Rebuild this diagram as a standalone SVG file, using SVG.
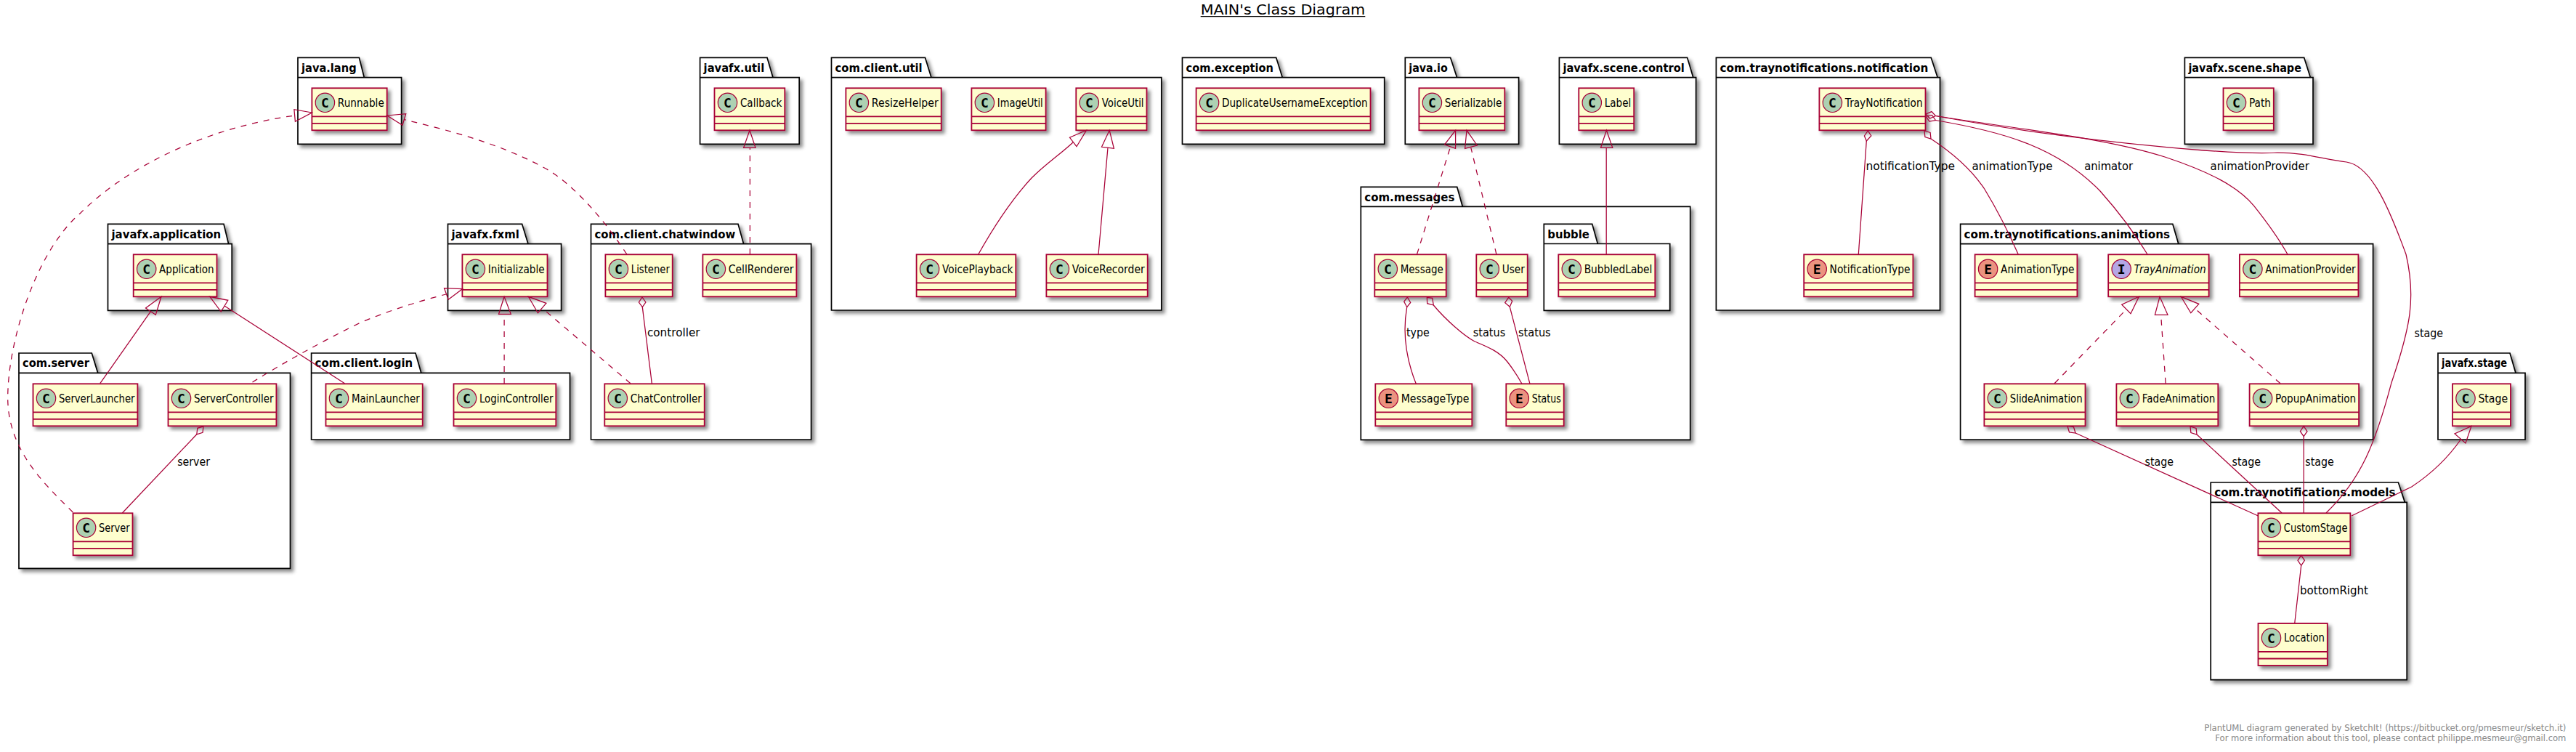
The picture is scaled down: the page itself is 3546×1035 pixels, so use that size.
<svg xmlns="http://www.w3.org/2000/svg" width="3546" height="1035" viewBox="0 0 3546 1035">
<style>
text{font-family:"DejaVu Sans","Liberation Sans",sans-serif;fill:#000}
.p path{fill:#fff;stroke:#000;stroke-width:1.7;filter:url(#s)}
.p text{font-weight:bold;font-size:16px}
.c rect{fill:#FEFECE;stroke:#A80036;stroke-width:1.8;filter:url(#s)}
.c path{fill:none;stroke:#A80036;stroke-width:1.8}
.c circle{stroke:#A80036;stroke-width:1.2;fill:#ADD1B2}
.e circle{fill:#EB937F}
.i circle{fill:#B4A7E5}
.c text{font-size:15px}
.i text.n{font-style:italic}
.c text.g{font-family:"DejaVu Sans Mono","Liberation Mono",monospace;font-weight:bold;font-size:18px;text-anchor:middle}
#links path,#links polygon{fill:none;stroke:#A80036;stroke-width:1.25}
#links .d{stroke-dasharray:8 8}
#links text{font-size:15px}
.f{font-size:12.5px;fill:#888}
</style>
<defs><filter id="s" x="-10%" y="-10%" width="125%" height="125%"><feDropShadow dx="4" dy="4" stdDeviation="2.4" flood-color="#000" flood-opacity="0.45"/></filter></defs>
<g id="title"><text x="1652.7" y="20" font-size="19" textLength="226.6" lengthAdjust="spacingAndGlyphs">MAIN's Class Diagram</text><path d="M1652.7 22.6H1879.3" stroke="#000" stroke-width="1.2"/></g>

<g id="pkg-java-lang" class="p"><path d="M410 106.7V79.3H494.4L501.3 106.7H552.6V198.3H410ZM410 106.7H501.3"/><text x="415" y="98.7" textLength="75.6" lengthAdjust="spacingAndGlyphs">java.lang</text></g>
<g id="pkg-javafx-util" class="p"><path d="M963.6 106.7V79.3H1056L1064 106.7H1100.2V198.3H963.6ZM963.6 106.7H1064"/><text x="968.6" y="98.7" textLength="83.6" lengthAdjust="spacingAndGlyphs">javafx.util</text></g>
<g id="pkg-com-client-util" class="p"><path d="M1144.5 106.7V79.3H1273.5L1282 106.7H1598.8V427H1144.5ZM1144.5 106.7H1282"/><text x="1149.5" y="98.7" textLength="120.2" lengthAdjust="spacingAndGlyphs">com.client.util</text></g>
<g id="pkg-com-exception" class="p"><path d="M1627.5 106.7V79.3H1756.7L1765.3 106.7H1905.7V198.3H1627.5ZM1627.5 106.7H1765.3"/><text x="1632.5" y="98.7" textLength="120.4" lengthAdjust="spacingAndGlyphs">com.exception</text></g>
<g id="pkg-java-io" class="p"><path d="M1934.3 106.7V79.3H1996.6L2005.6 106.7H2090.6V198.3H1934.3ZM1934.3 106.7H2005.6"/><text x="1939.3" y="98.7" textLength="53.5" lengthAdjust="spacingAndGlyphs">java.io</text></g>
<g id="pkg-javafx-scene-control" class="p"><path d="M2146.4 106.7V79.3H2322.6L2330.8 106.7H2334.6V198.3H2146.4ZM2146.4 106.7H2330.8"/><text x="2151.4" y="98.7" textLength="167.4" lengthAdjust="spacingAndGlyphs">javafx.scene.control</text></g>
<g id="pkg-notification" class="p"><path d="M2362.4 106.7V79.3H2658.2L2667.2 106.7H2670.5V427H2362.4ZM2362.4 106.7H2667.2"/><text x="2367.4" y="98.7" textLength="287" lengthAdjust="spacingAndGlyphs">com.traynotifications.notification</text></g>
<g id="pkg-javafx-scene-shape" class="p"><path d="M3007.4 106.7V79.3H3171.7L3180.4 106.7H3184V198.3H3007.4ZM3007.4 106.7H3180.4"/><text x="3012.4" y="98.7" textLength="155.5" lengthAdjust="spacingAndGlyphs">javafx.scene.shape</text></g>
<g id="pkg-javafx-application" class="p"><path d="M148.5 335.7V308.3H308L314.6 335.7H319.2V427.3H148.5ZM148.5 335.7H314.6"/><text x="153.5" y="327.7" textLength="150.7" lengthAdjust="spacingAndGlyphs">javafx.application</text></g>
<g id="pkg-javafx-fxml" class="p"><path d="M616.5 335.7V308.3H718.6L727 335.7H772.6V427.3H616.5ZM616.5 335.7H727"/><text x="621.5" y="327.7" textLength="93.3" lengthAdjust="spacingAndGlyphs">javafx.fxml</text></g>
<g id="pkg-chatwindow" class="p"><path d="M813.5 335.7V308.3H1016L1023.6 335.7H1116.6V605H813.5ZM813.5 335.7H1023.6"/><text x="818.5" y="327.7" textLength="193.7" lengthAdjust="spacingAndGlyphs">com.client.chatwindow</text></g>
<g id="pkg-animations" class="p"><path d="M2698.6 335.7V308.3H2990.8L2998.8 335.7H3266.6V605H2698.6ZM2698.6 335.7H2998.8"/><text x="2703.6" y="327.7" textLength="283.4" lengthAdjust="spacingAndGlyphs">com.traynotifications.animations</text></g>
<g id="pkg-com-messages" class="p"><path d="M1873.3 284.3V257.3H2005.7L2013.3 284.3H2326.7V605.3H1873.3ZM1873.3 284.3H2013.3"/><text x="1878.3" y="276.7" textLength="124" lengthAdjust="spacingAndGlyphs">com.messages</text></g>
<g id="pkg-bubble" class="p"><path d="M2125.3 335.5V308.3H2191.7L2199.3 335.5H2298.7V427.3H2125.3ZM2125.3 335.5H2199.3"/><text x="2130.3" y="327.7" textLength="57.6" lengthAdjust="spacingAndGlyphs">bubble</text></g>
<g id="pkg-com-server" class="p"><path d="M26 513.3V486H126.3L134.7 513.3H399.5V782.3H26ZM26 513.3H134.7"/><text x="31" y="505.4" textLength="92" lengthAdjust="spacingAndGlyphs">com.server</text></g>
<g id="pkg-com-client-login" class="p"><path d="M428.6 513.3V486H572L579.8 513.3H784.5V605H428.6ZM428.6 513.3H579.8"/><text x="433.6" y="505.4" textLength="134.6" lengthAdjust="spacingAndGlyphs">com.client.login</text></g>
<g id="pkg-javafx-stage" class="p"><path d="M3356 513.3V486H3455L3463 513.3H3476V605H3356ZM3356 513.3H3463"/><text x="3361" y="505.4" textLength="90" lengthAdjust="spacingAndGlyphs">javafx.stage</text></g>
<g id="pkg-models" class="p"><path d="M3043.2 691.3V664H3301.4L3310.4 691.3H3313.2V935.7H3043.2ZM3043.2 691.3H3310.4"/><text x="3048.2" y="683.4" textLength="249.4" lengthAdjust="spacingAndGlyphs">com.traynotifications.models</text></g>

<g id="Runnable" class="c"><rect x="429.4" y="121.3" width="103.3" height="58"/><path d="M429.4 160.3h103.3M429.4 169.8h103.3"/><circle cx="447.4" cy="141.3" r="13.2"/><text class="g" x="447.4" y="147.8">C</text><text class="n" x="464.8" y="146.7" textLength="64" lengthAdjust="spacingAndGlyphs">Runnable</text></g>
<g id="Callback" class="c"><rect x="983.5" y="121.3" width="96.8" height="58"/><path d="M983.5 160.3h96.8M983.5 169.8h96.8"/><circle cx="1001.5" cy="141.3" r="13.2"/><text class="g" x="1001.5" y="147.8">C</text><text class="n" x="1018.9" y="146.7" textLength="57.5" lengthAdjust="spacingAndGlyphs">Callback</text></g>
<g id="ResizeHelper" class="c"><rect x="1164.4" y="121.3" width="131.3" height="58"/><path d="M1164.4 160.3h131.3M1164.4 169.8h131.3"/><circle cx="1182.4" cy="141.3" r="13.2"/><text class="g" x="1182.4" y="147.8">C</text><text class="n" x="1199.8" y="146.7" textLength="92" lengthAdjust="spacingAndGlyphs">ResizeHelper</text></g>
<g id="ImageUtil" class="c"><rect x="1337.4" y="121.3" width="102.2" height="58"/><path d="M1337.4 160.3h102.2M1337.4 169.8h102.2"/><circle cx="1355.4" cy="141.3" r="13.2"/><text class="g" x="1355.4" y="147.8">C</text><text class="n" x="1372.8" y="146.7" textLength="62.9" lengthAdjust="spacingAndGlyphs">ImageUtil</text></g>
<g id="VoiceUtil" class="c"><rect x="1481.3" y="121.3" width="97.2" height="58"/><path d="M1481.3 160.3h97.2M1481.3 169.8h97.2"/><circle cx="1499.3" cy="141.3" r="13.2"/><text class="g" x="1499.3" y="147.8">C</text><text class="n" x="1516.7" y="146.7" textLength="57.9" lengthAdjust="spacingAndGlyphs">VoiceUtil</text></g>
<g id="DuplicateUsernameException" class="c"><rect x="1646.6" y="121.3" width="239.9" height="58"/><path d="M1646.6 160.3h239.9M1646.6 169.8h239.9"/><circle cx="1664.6" cy="141.3" r="13.2"/><text class="g" x="1664.6" y="147.8">C</text><text class="n" x="1682" y="146.7" textLength="200.6" lengthAdjust="spacingAndGlyphs">DuplicateUsernameException</text></g>
<g id="Serializable" class="c"><rect x="1953.4" y="121.3" width="117.9" height="58"/><path d="M1953.4 160.3h117.9M1953.4 169.8h117.9"/><circle cx="1971.4" cy="141.3" r="13.2"/><text class="g" x="1971.4" y="147.8">C</text><text class="n" x="1988.8" y="146.7" textLength="78.6" lengthAdjust="spacingAndGlyphs">Serializable</text></g>
<g id="Label" class="c"><rect x="2173.3" y="121.3" width="75.9" height="58"/><path d="M2173.3 160.3h75.9M2173.3 169.8h75.9"/><circle cx="2191.3" cy="141.3" r="13.2"/><text class="g" x="2191.3" y="147.8">C</text><text class="n" x="2208.7" y="146.7" textLength="36.6" lengthAdjust="spacingAndGlyphs">Label</text></g>
<g id="TrayNotification" class="c"><rect x="2504.4" y="121.3" width="146.1" height="58"/><path d="M2504.4 160.3h146.1M2504.4 169.8h146.1"/><circle cx="2522.4" cy="141.3" r="13.2"/><text class="g" x="2522.4" y="147.8">C</text><text class="n" x="2539.8" y="146.7" textLength="106.8" lengthAdjust="spacingAndGlyphs">TrayNotification</text></g>
<g id="Path" class="c"><rect x="3060.5" y="121.3" width="69.3" height="58"/><path d="M3060.5 160.3h69.3M3060.5 169.8h69.3"/><circle cx="3078.5" cy="141.3" r="13.2"/><text class="g" x="3078.5" y="147.8">C</text><text class="n" x="3095.9" y="146.7" textLength="30" lengthAdjust="spacingAndGlyphs">Path</text></g>

<g id="Application" class="c"><rect x="183.7" y="350.3" width="114.8" height="58"/><path d="M183.7 389.3h114.8M183.7 398.8h114.8"/><circle cx="201.7" cy="370.3" r="13.2"/><text class="g" x="201.7" y="376.8">C</text><text class="n" x="219.1" y="375.7" textLength="75.5" lengthAdjust="spacingAndGlyphs">Application</text></g>
<g id="Initializable" class="c"><rect x="636.4" y="350.3" width="117.1" height="58"/><path d="M636.4 389.3h117.1M636.4 398.8h117.1"/><circle cx="654.4" cy="370.3" r="13.2"/><text class="g" x="654.4" y="376.8">C</text><text class="n" x="671.8" y="375.7" textLength="77.8" lengthAdjust="spacingAndGlyphs">Initializable</text></g>
<g id="Listener" class="c"><rect x="833.4" y="350.3" width="92.3" height="58"/><path d="M833.4 389.3h92.3M833.4 398.8h92.3"/><circle cx="851.4" cy="370.3" r="13.2"/><text class="g" x="851.4" y="376.8">C</text><text class="n" x="868.8" y="375.7" textLength="53" lengthAdjust="spacingAndGlyphs">Listener</text></g>
<g id="CellRenderer" class="c"><rect x="967.4" y="350.3" width="129" height="58"/><path d="M967.4 389.3h129M967.4 398.8h129"/><circle cx="985.4" cy="370.3" r="13.2"/><text class="g" x="985.4" y="376.8">C</text><text class="n" x="1002.8" y="375.7" textLength="89.7" lengthAdjust="spacingAndGlyphs">CellRenderer</text></g>
<g id="VoicePlayback" class="c"><rect x="1261.6" y="350.3" width="136.7" height="58"/><path d="M1261.6 389.3h136.7M1261.6 398.8h136.7"/><circle cx="1279.6" cy="370.3" r="13.2"/><text class="g" x="1279.6" y="376.8">C</text><text class="n" x="1297" y="375.7" textLength="97.4" lengthAdjust="spacingAndGlyphs">VoicePlayback</text></g>
<g id="VoiceRecorder" class="c"><rect x="1440.4" y="350.3" width="139.3" height="58"/><path d="M1440.4 389.3h139.3M1440.4 398.8h139.3"/><circle cx="1458.4" cy="370.3" r="13.2"/><text class="g" x="1458.4" y="376.8">C</text><text class="n" x="1475.8" y="375.7" textLength="100" lengthAdjust="spacingAndGlyphs">VoiceRecorder</text></g>
<g id="Message" class="c"><rect x="1892.3" y="350.3" width="98.4" height="58"/><path d="M1892.3 389.3h98.4M1892.3 398.8h98.4"/><circle cx="1910.3" cy="370.3" r="13.2"/><text class="g" x="1910.3" y="376.8">C</text><text class="n" x="1927.7" y="375.7" textLength="59.1" lengthAdjust="spacingAndGlyphs">Message</text></g>
<g id="User" class="c"><rect x="2032.3" y="350.3" width="70.4" height="58"/><path d="M2032.3 389.3h70.4M2032.3 398.8h70.4"/><circle cx="2050.3" cy="370.3" r="13.2"/><text class="g" x="2050.3" y="376.8">C</text><text class="n" x="2067.7" y="375.7" textLength="31.1" lengthAdjust="spacingAndGlyphs">User</text></g>
<g id="BubbledLabel" class="c"><rect x="2145.3" y="350.3" width="133" height="58"/><path d="M2145.3 389.3h133M2145.3 398.8h133"/><circle cx="2163.3" cy="370.3" r="13.2"/><text class="g" x="2163.3" y="376.8">C</text><text class="n" x="2180.7" y="375.7" textLength="93.7" lengthAdjust="spacingAndGlyphs">BubbledLabel</text></g>
<g id="NotificationType" class="c e"><rect x="2483.2" y="350.3" width="150.2" height="58"/><path d="M2483.2 389.3h150.2M2483.2 398.8h150.2"/><circle cx="2501.2" cy="370.3" r="13.2"/><text class="g" x="2501.2" y="376.8">E</text><text class="n" x="2518.6" y="375.7" textLength="110.9" lengthAdjust="spacingAndGlyphs">NotificationType</text></g>
<g id="AnimationType" class="c e"><rect x="2718.6" y="350.3" width="140.8" height="58"/><path d="M2718.6 389.3h140.8M2718.6 398.8h140.8"/><circle cx="2736.6" cy="370.3" r="13.2"/><text class="g" x="2736.6" y="376.8">E</text><text class="n" x="2754" y="375.7" textLength="101.5" lengthAdjust="spacingAndGlyphs">AnimationType</text></g>
<g id="TrayAnimation" class="c i"><rect x="2902.2" y="350.3" width="138.4" height="58"/><path d="M2902.2 389.3h138.4M2902.2 398.8h138.4"/><circle cx="2920.2" cy="370.3" r="13.2"/><text class="g" x="2920.2" y="376.8">I</text><text class="n" x="2937.6" y="375.7" textLength="99.1" lengthAdjust="spacingAndGlyphs">TrayAnimation</text></g>
<g id="AnimationProvider" class="c"><rect x="3082.9" y="350.3" width="163.5" height="58"/><path d="M3082.9 389.3h163.5M3082.9 398.8h163.5"/><circle cx="3100.9" cy="370.3" r="13.2"/><text class="g" x="3100.9" y="376.8">C</text><text class="n" x="3118.3" y="375.7" textLength="124.2" lengthAdjust="spacingAndGlyphs">AnimationProvider</text></g>

<g id="ServerLauncher" class="c"><rect x="45.5" y="528.3" width="143.9" height="58"/><path d="M45.5 567.3h143.9M45.5 576.8h143.9"/><circle cx="63.5" cy="548.3" r="13.2"/><text class="g" x="63.5" y="554.8">C</text><text class="n" x="80.9" y="553.7" textLength="104.6" lengthAdjust="spacingAndGlyphs">ServerLauncher</text></g>
<g id="ServerController" class="c"><rect x="231.5" y="528.3" width="148.9" height="58"/><path d="M231.5 567.3h148.9M231.5 576.8h148.9"/><circle cx="249.5" cy="548.3" r="13.2"/><text class="g" x="249.5" y="554.8">C</text><text class="n" x="266.9" y="553.7" textLength="109.6" lengthAdjust="spacingAndGlyphs">ServerController</text></g>
<g id="MainLauncher" class="c"><rect x="448.5" y="528.3" width="133.2" height="58"/><path d="M448.5 567.3h133.2M448.5 576.8h133.2"/><circle cx="466.5" cy="548.3" r="13.2"/><text class="g" x="466.5" y="554.8">C</text><text class="n" x="483.9" y="553.7" textLength="93.9" lengthAdjust="spacingAndGlyphs">MainLauncher</text></g>
<g id="LoginController" class="c"><rect x="624.5" y="528.3" width="140.8" height="58"/><path d="M624.5 567.3h140.8M624.5 576.8h140.8"/><circle cx="642.5" cy="548.3" r="13.2"/><text class="g" x="642.5" y="554.8">C</text><text class="n" x="659.9" y="553.7" textLength="101.5" lengthAdjust="spacingAndGlyphs">LoginController</text></g>
<g id="ChatController" class="c"><rect x="832.3" y="528.3" width="137.4" height="58"/><path d="M832.3 567.3h137.4M832.3 576.8h137.4"/><circle cx="850.3" cy="548.3" r="13.2"/><text class="g" x="850.3" y="554.8">C</text><text class="n" x="867.7" y="553.7" textLength="98.1" lengthAdjust="spacingAndGlyphs">ChatController</text></g>
<g id="MessageType" class="c e"><rect x="1893.3" y="528.3" width="133" height="58"/><path d="M1893.3 567.3h133M1893.3 576.8h133"/><circle cx="1911.3" cy="548.3" r="13.2"/><text class="g" x="1911.3" y="554.8">E</text><text class="n" x="1928.7" y="553.7" textLength="93.7" lengthAdjust="spacingAndGlyphs">MessageType</text></g>
<g id="Status" class="c e"><rect x="2073.3" y="528.3" width="79.4" height="58"/><path d="M2073.3 567.3h79.4M2073.3 576.8h79.4"/><circle cx="2091.3" cy="548.3" r="13.2"/><text class="g" x="2091.3" y="554.8">E</text><text class="n" x="2108.7" y="553.7" textLength="40.1" lengthAdjust="spacingAndGlyphs">Status</text></g>
<g id="SlideAnimation" class="c"><rect x="2731.4" y="528.3" width="139.1" height="58"/><path d="M2731.4 567.3h139.1M2731.4 576.8h139.1"/><circle cx="2749.4" cy="548.3" r="13.2"/><text class="g" x="2749.4" y="554.8">C</text><text class="n" x="2766.8" y="553.7" textLength="99.8" lengthAdjust="spacingAndGlyphs">SlideAnimation</text></g>
<g id="FadeAnimation" class="c"><rect x="2913.4" y="528.3" width="139.9" height="58"/><path d="M2913.4 567.3h139.9M2913.4 576.8h139.9"/><circle cx="2931.4" cy="548.3" r="13.2"/><text class="g" x="2931.4" y="554.8">C</text><text class="n" x="2948.8" y="553.7" textLength="100.6" lengthAdjust="spacingAndGlyphs">FadeAnimation</text></g>
<g id="PopupAnimation" class="c"><rect x="3096.6" y="528.3" width="150.5" height="58"/><path d="M3096.6 567.3h150.5M3096.6 576.8h150.5"/><circle cx="3114.6" cy="548.3" r="13.2"/><text class="g" x="3114.6" y="554.8">C</text><text class="n" x="3132" y="553.7" textLength="111.2" lengthAdjust="spacingAndGlyphs">PopupAnimation</text></g>
<g id="Stage" class="c"><rect x="3376" y="528.3" width="80" height="58"/><path d="M3376 567.3h80M3376 576.8h80"/><circle cx="3394" cy="548.3" r="13.2"/><text class="g" x="3394" y="554.8">C</text><text class="n" x="3411.4" y="553.7" textLength="40.7" lengthAdjust="spacingAndGlyphs">Stage</text></g>

<g id="Server" class="c"><rect x="100.6" y="706.3" width="81.9" height="58"/><path d="M100.6 745.3h81.9M100.6 754.8h81.9"/><circle cx="118.6" cy="726.3" r="13.2"/><text class="g" x="118.6" y="732.8">C</text><text class="n" x="136" y="731.7" textLength="42.6" lengthAdjust="spacingAndGlyphs">Server</text></g>
<g id="CustomStage" class="c"><rect x="3108.4" y="706.3" width="126.9" height="58"/><path d="M3108.4 745.3h126.9M3108.4 754.8h126.9"/><circle cx="3126.4" cy="726.3" r="13.2"/><text class="g" x="3126.4" y="732.8">C</text><text class="n" x="3143.8" y="731.7" textLength="87.6" lengthAdjust="spacingAndGlyphs">CustomStage</text></g>
<g id="Location" class="c"><rect x="3108.5" y="858" width="95.3" height="58"/><path d="M3108.5 897h95.3M3108.5 906.5h95.3"/><circle cx="3126.5" cy="878" r="13.2"/><text class="g" x="3126.5" y="884.5">C</text><text class="n" x="3143.9" y="883.4" textLength="56" lengthAdjust="spacingAndGlyphs">Location</text></g>

<g id="links">
<path class="d" d="M100.3 705C60 665 12 620 10.7 550C10 470 50 345 111 293C180 225 290 175 405.7 159"/><polygon points="429.4,155 404.9,150.7 406.4,167.3"/>
<path class="d" d="M862.9 350C830 300 790 255 753 233C690 198 620 180 556 164.5"/><polygon points="532.7,159 558.7,156.7 554,172.3"/>
<path class="d" d="M1032.4 350V203.3"/><polygon points="1032,179.3 1023.6,203.3 1040,203.3"/>
<path d="M137.8 527.7L207.4 428.7"/><polygon points="222,408.3 200.5,424 214.3,433.3"/>
<path d="M474.5 527.7L309 421"/><polygon points="288.9,408.3 304.2,429 313.8,413.3"/>
<path class="d" d="M347.5 526Q413 485 497.5 443.3Q555 420 614 405"/><polygon points="636.4,397.7 611.5,396.7 617.2,412.3"/>
<path d="M270.8 597.8L168.4 706"/><polygon points="280,586.8 279,595.3 270.8,597.8 271.8,589.3"/>
<text x="244.2" y="640.7" textLength="44.8" lengthAdjust="spacingAndGlyphs">server</text>
<path class="d" d="M694.1 528V432.3"/><polygon points="694.1,408.3 686.5,432.3 703.3,432.3"/>
<path class="d" d="M867.9 527.7L746.2 424"/><polygon points="727.4,408.3 740.4,430.7 751.9,417.3"/>
<path d="M884.3 422.7L897.4 528.3"/><polygon points="884,409 888.9,416 884.3,422.7 879.4,416"/>
<text x="890.9" y="463.3" textLength="72.7" lengthAdjust="spacingAndGlyphs">controller</text>
<path d="M1346.6 350.3C1372 305 1395 272 1420 245C1440 225 1460 212 1477 196"/><polygon points="1495.5,179.3 1472.5,189.3 1482,201.7"/>
<path d="M1512 350.3L1525 203.3"/><polygon points="1527.2,179.3 1516.5,202.3 1533.4,204.3"/>
<path class="d" d="M1950.5 350L1996.2 203.3"/><polygon points="2003.6,179.3 1988.5,199 2003.6,204.3"/>
<path class="d" d="M2059.9 350L2024.8 203.3"/><polygon points="2019,179.3 2016.6,204.3 2033.3,200"/>
<path d="M2211.2 350.3V203.3"/><polygon points="2211.4,179.3 2203.5,203.3 2219.8,203.3"/>
<path d="M1936.7 422.7C1931 455 1934 490 1949.3 528.3"/><polygon points="1937.3,409 1941.7,416.5 1936.7,422.7 1932.7,415"/>
<text x="1936" y="462.7" textLength="31.7" lengthAdjust="spacingAndGlyphs">type</text>
<path d="M1973.3 420C1990 440 2015 462 2030 470C2050 478 2065 485 2075 498Q2086 512 2095 528.3"/><polygon points="1964.3,409.3 1971.7,410.3 1973.3,420 1964.7,417.7"/>
<text x="2027.7" y="462.7" textLength="44.6" lengthAdjust="spacingAndGlyphs">status</text>
<path d="M2078.3 422.3L2106 528.3"/><polygon points="2076.7,409.3 2081.7,414.3 2078.3,422.3 2071.7,416.7"/>
<text x="2090" y="462.7" textLength="44.7" lengthAdjust="spacingAndGlyphs">status</text>
<path d="M2569.3 194L2558.3 350"/><polygon points="2571.3,180 2575.8,187 2569.3,194 2566.4,187"/>
<text x="2568.5" y="233.5" textLength="122.5" lengthAdjust="spacingAndGlyphs">notificationType</text>
<path d="M2658 191C2690 212 2715 235 2731.7 260C2750 290 2765 320 2778.2 350"/><polygon points="2649,180 2657.1,182.5 2658,191 2649.9,188.5"/>
<text x="2714.6" y="233.5" textLength="110.9" lengthAdjust="spacingAndGlyphs">animationType</text>
<path d="M2664.4 165.5C2750 180 2830 200 2891 263C2915 290 2935 315 2956 350"/><polygon points="2651,160 2659.5,158.5 2664.4,165.5 2655.9,167"/>
<text x="2869.2" y="233.5" textLength="66.8" lengthAdjust="spacingAndGlyphs">animator</text>
<path d="M2664.5 159.5C2780 178 2900 190 2980 216C3040 236 3080 256 3102.7 283.3C3120 305 3135 325 3149 350"/>
<text x="3042.5" y="233.5" textLength="136.4" lengthAdjust="spacingAndGlyphs">animationProvider</text>
<path d="M2664.5 159.5C2760 177 2870 192 2980 202.3C3040 208 3100 212 3135 210C3175 210 3200 220 3230 223C3265 228 3290 290 3312 350C3326 410 3318 450 3292 526.7C3270 610 3250 660 3202 706"/><polygon points="2651,157 2659,153.6 2664.5,159.5 2656.5,163"/>
<text x="3323.5" y="463.5" textLength="39.5" lengthAdjust="spacingAndGlyphs">stage</text>
<path class="d" d="M2828.1 527.7L2926.8 426"/><polygon points="2944.4,408.3 2920.7,419.3 2933,431.7"/>
<path class="d" d="M2981.1 527.7L2974.6 433.3"/><polygon points="2973,408.3 2966.4,433.3 2984,433.3"/>
<path class="d" d="M3139 527.7L3020.7 424"/><polygon points="3002.3,408.3 3015.8,430.7 3026.8,418.3"/>
<path d="M2857 596L3108.4 710"/><polygon points="2846,586.5 2854.5,587.7 2857,596 2848.5,594.9"/>
<text x="2952.5" y="640.7" textLength="39.5" lengthAdjust="spacingAndGlyphs">stage</text>
<path d="M3024 598L3141 706"/><polygon points="3015,587 3023.1,589.5 3024,598 3015.9,595.5"/>
<text x="3072.5" y="640.7" textLength="39.5" lengthAdjust="spacingAndGlyphs">stage</text>
<path d="M3171.2 600.7V706"/><polygon points="3171.2,586.7 3176,593.7 3171.2,600.7 3166.4,593.7"/>
<text x="3173.3" y="640.7" textLength="39.5" lengthAdjust="spacingAndGlyphs">stage</text>
<path d="M3237 710L3319.7 670C3350 650 3370 630 3388 604"/><polygon points="3402,586.5 3379,597 3394,610"/>
<path d="M3167.7 778.3L3158.7 858"/><polygon points="3167.7,764.3 3172.4,771.3 3167.7,778.3 3163,771.3"/>
<text x="3166" y="818" textLength="94" lengthAdjust="spacingAndGlyphs">bottomRight</text>
</g>
<g id="footer"><text class="f" x="3034.2" y="1005.7" textLength="498.2" lengthAdjust="spacingAndGlyphs">PlantUML diagram generated by SketchIt! (https://bitbucket.org/pmesmeur/sketch.it)</text><text class="f" x="3049.3" y="1019.7" textLength="483.1" lengthAdjust="spacingAndGlyphs">For more information about this tool, please contact philippe.mesmeur@gmail.com</text></g>
</svg>
